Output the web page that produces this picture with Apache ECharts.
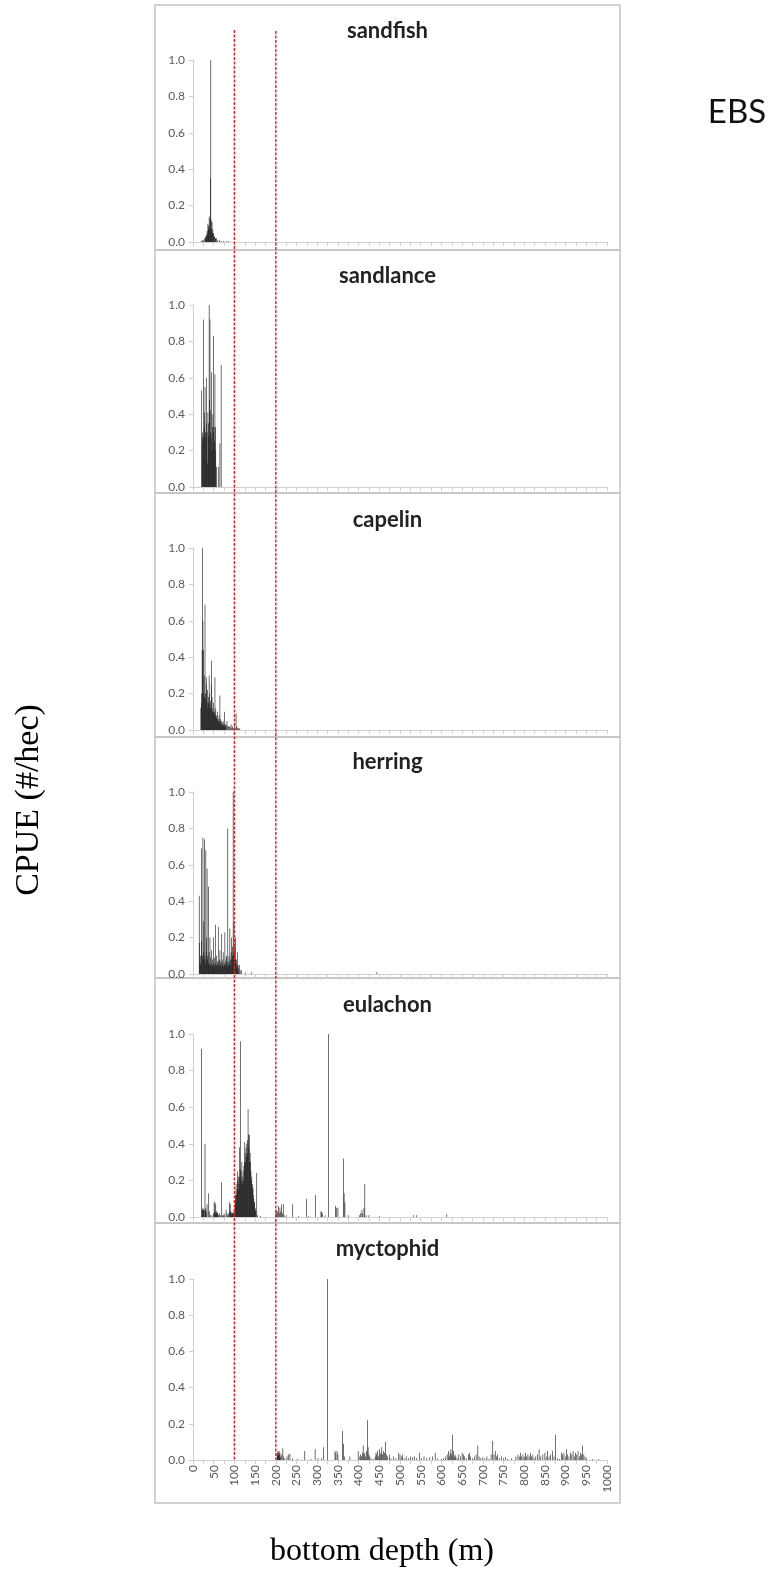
<!DOCTYPE html>
<html><head><meta charset="utf-8">
<script src="https://cdn.jsdelivr.net/npm/echarts@6/dist/echarts.min.js"></script>
<style>html,body{margin:0;padding:0;background:#fff}#c{width:770px;height:1570px}</style>
</head><body><div id="c"></div>
<script>
// ---------- data ----------
const species = ['sandfish', 'sandlance', 'capelin', 'herring', 'eulachon', 'myctophid'];
const yTickLabels = ['0.0', '0.2', '0.4', '0.6', '0.8', '1.0'];
const xTickLabels = ['0','50','100','150','200','250','300','350','400','450','500','550','600','650','700','750','800','850','900','950','1000'];
const refDepths = [100, 200];
const regionLabel = 'EBS';
const yTitle = 'CPUE (#/hec)';
const xTitle = 'bottom depth (m)';

const sandfish = [[20,0.005],[23,0.01],[26,0.01],[28,0.02],[30,0.03],[31,0.02],[32,0.04],[33,0.03],[34,0.06],[35,0.05],[36,0.1],[37,0.07],[38,0.09],[39,0.14],[40,0.08],[41,0.13],[42,0.35],[43,1.0],[44,0.12],[45,0.07],[46,0.11],[47,0.05],[48,0.07],[49,0.04],[50,0.05],[51,0.03],[52,0.03],[54,0.02],[55,0.02],[57,0.02],[60,0.01],[64,0.01],[68,0.005],[74,0.005],[80,0.005],[85,0.005]];

const sandlance = [[21,0.53],[22,0.27],[23,0.3],[24,0.25],[25,0.92],[26,0.28],[27,0.33],[28,0.41],[29,0.55],[30,0.3],[31,0.27],[32,0.35],[33,0.6],[34,0.3],[35,0.13],[36,0.41],[37,0.35],[38,0.28],[39,1.0],[40,0.48],[41,0.92],[42,0.3],[43,0.42],[44,0.27],[45,0.63],[46,0.2],[47,0.33],[48,0.4],[49,0.83],[50,0.3],[51,0.33],[52,0.25],[53,0.62],[54,0.33],[55,0.2],[57,0.11],[61,0.11],[65,0.24],[68,0.67]];

const capelin = [[19,0.12],[20,0.15],[21,0.2],[22,0.44],[23,1.0],[24,0.6],[25,0.44],[26,0.2],[27,0.3],[28,0.18],[29,0.69],[30,0.2],[31,0.17],[32,0.29],[33,0.25],[34,0.15],[35,0.22],[36,0.12],[37,0.15],[38,0.18],[39,0.3],[40,0.2],[41,0.14],[42,0.12],[43,0.16],[44,0.25],[45,0.38],[46,0.18],[47,0.1],[48,0.12],[49,0.09],[50,0.15],[51,0.1],[52,0.1],[53,0.29],[54,0.08],[55,0.12],[56,0.07],[57,0.08],[58,0.06],[59,0.1],[60,0.05],[61,0.06],[62,0.05],[63,0.08],[64,0.04],[65,0.19],[66,0.05],[67,0.06],[68,0.03],[69,0.05],[70,0.03],[71,0.04],[72,0.03],[73,0.05],[74,0.02],[75,0.03],[76,0.1],[77,0.02],[78,0.03],[79,0.02],[80,0.03],[82,0.05],[84,0.02],[86,0.02],[88,0.02],[90,0.015],[92,0.03],[94,0.01],[96,0.02],[98,0.01],[100,0.02],[102,0.01],[104,0.09],[106,0.02],[108,0.01],[110,0.01],[113,0.01]];

const herring = [[15,0.43],[16,0.17],[17,0.06],[18,0.1],[19,0.05],[20,0.18],[21,0.69],[22,0.08],[23,0.1],[24,0.75],[25,0.12],[26,0.29],[27,0.08],[28,0.74],[29,0.1],[30,0.06],[31,0.68],[32,0.12],[33,0.2],[34,0.58],[35,0.08],[36,0.1],[37,0.48],[38,0.06],[39,0.12],[40,0.05],[41,0.2],[42,0.05],[43,0.09],[44,0.06],[45,0.13],[46,0.05],[47,0.08],[48,0.04],[49,0.2],[50,0.06],[51,0.05],[52,0.09],[53,0.04],[54,0.27],[55,0.06],[56,0.05],[57,0.1],[58,0.04],[59,0.07],[60,0.05],[61,0.26],[62,0.06],[63,0.04],[64,0.08],[65,0.13],[66,0.05],[67,0.07],[68,0.04],[69,0.22],[70,0.06],[71,0.05],[72,0.08],[73,0.12],[74,0.04],[75,0.06],[76,0.05],[77,0.23],[78,0.07],[79,0.05],[80,0.09],[81,0.1],[82,0.06],[83,0.04],[84,0.8],[85,0.07],[86,0.05],[87,0.1],[88,0.06],[89,0.25],[90,0.08],[91,0.05],[92,0.12],[93,0.2],[94,0.08],[95,0.1],[96,0.15],[97,1.0],[98,0.12],[99,0.28],[100,0.1],[101,0.15],[102,0.08],[103,0.2],[104,0.06],[105,0.08],[106,0.04],[107,0.12],[108,0.04],[109,0.05],[110,0.03],[112,0.05],[114,0.02],[117,0.02],[126,0.01],[142,0.01],[199,0.01],[444,0.01]];

const eulachon = [[21,0.92],[22,0.04],[23,0.04],[24,0.05],[25,0.04],[26,0.04],[27,0.04],[29,0.4],[30,0.04],[31,0.05],[32,0.03],[34,0.07],[37,0.13],[40,0.03],[43,0.01],[46,0.01],[49,0.02],[51,0.08],[52,0.03],[53,0.08],[54,0.02],[55,0.07],[56,0.03],[57,0.02],[58,0.03],[59,0.02],[60,0.02],[62,0.01],[64,0.02],[66,0.01],[69,0.19],[71,0.01],[73,0.01],[75,0.02],[77,0.01],[80,0.04],[82,0.02],[84,0.01],[86,0.02],[88,0.08],[89,0.03],[90,0.07],[91,0.02],[92,0.03],[93,0.02],[94,0.01],[95,0.02],[96,0.02],[97,0.03],[98,0.02],[99,0.01],[100,0.02],[101,0.05],[102,0.08],[103,0.12],[104,0.18],[105,0.12],[106,0.15],[107,0.25],[108,0.2],[109,0.15],[110,0.22],[111,0.18],[112,0.38],[113,0.22],[114,0.26],[115,0.96],[116,0.25],[117,0.2],[118,0.3],[119,0.22],[120,0.18],[121,0.25],[122,0.2],[123,0.28],[124,0.3],[125,0.41],[126,0.35],[127,0.3],[128,0.38],[129,0.33],[130,0.4],[131,0.35],[132,0.42],[133,0.59],[134,0.45],[135,0.38],[136,0.45],[137,0.3],[138,0.35],[139,0.3],[140,0.25],[141,0.2],[142,0.22],[143,0.15],[144,0.18],[145,0.16],[146,0.12],[147,0.1],[148,0.08],[149,0.08],[150,0.05],[151,0.04],[152,0.03],[154,0.24],[156,0.01],[163,0.005],[200,0.02],[202,0.04],[204,0.03],[206,0.06],[208,0.02],[210,0.05],[212,0.03],[214,0.07],[216,0.02],[218,0.07],[220,0.01],[225,0.01],[241,0.07],[255,0.005],[274,0.1],[280,0.005],[296,0.12],[309,0.03],[311,0.03],[313,0.02],[319,0.01],[327,1.0],[344,0.06],[346,0.05],[350,0.05],[363,0.32],[365,0.13],[367,0.08],[375,0.01],[402,0.01],[405,0.02],[408,0.04],[410,0.02],[413,0.05],[415,0.18],[418,0.01],[425,0.01],[450,0.005],[532,0.01],[540,0.01],[613,0.015]];

const myctophid = [[203,0.04],[204,0.03],[205,0.05],[206,0.02],[207,0.04],[208,0.05],[209,0.03],[210,0.04],[212,0.02],[214,0.03],[217,0.065],[219,0.02],[222,0.01],[227,0.02],[230,0.03],[234,0.035],[240,0.01],[252,0.005],[270,0.05],[285,0.005],[295,0.06],[302,0.01],[310,0.01],[315,0.07],[325,1.0],[343,0.05],[345,0.04],[348,0.05],[350,0.03],[361,0.16],[364,0.09],[366,0.02],[379,0.02],[399,0.05],[403,0.02],[405,0.03],[407,0.02],[409,0.04],[411,0.08],[413,0.03],[415,0.04],[417,0.02],[419,0.05],[421,0.22],[423,0.07],[425,0.03],[427,0.02],[430,0.01],[435,0.005],[440,0.02],[442,0.04],[444,0.03],[446,0.05],[448,0.02],[450,0.06],[452,0.03],[454,0.04],[456,0.07],[458,0.03],[460,0.05],[463,0.04],[465,0.1],[467,0.03],[470,0.02],[474,0.03],[478,0.01],[484,0.02],[490,0.01],[497,0.04],[500,0.03],[503,0.02],[506,0.03],[510,0.01],[515,0.02],[520,0.01],[525,0.02],[530,0.015],[535,0.02],[540,0.01],[547,0.04],[552,0.01],[558,0.02],[565,0.01],[572,0.015],[578,0.02],[585,0.04],[590,0.01],[600,0.005],[605,0.01],[610,0.02],[614,0.03],[617,0.05],[619,0.02],[621,0.04],[623,0.06],[625,0.03],[627,0.14],[629,0.05],[631,0.02],[633,0.03],[635,0.02],[638,0.01],[642,0.03],[646,0.02],[650,0.04],[653,0.03],[656,0.02],[660,0.01],[665,0.03],[668,0.04],[670,0.02],[675,0.01],[680,0.02],[684,0.03],[688,0.08],[691,0.02],[695,0.01],[700,0.015],[705,0.01],[710,0.02],[715,0.005],[720,0.03],[724,0.105],[727,0.03],[730,0.05],[733,0.02],[736,0.03],[740,0.01],[745,0.02],[750,0.01],[755,0.015],[760,0.005],[770,0.01],[780,0.02],[785,0.03],[788,0.02],[791,0.04],[794,0.02],[797,0.03],[800,0.02],[803,0.04],[806,0.02],[809,0.03],[812,0.02],[815,0.04],[818,0.02],[821,0.03],[824,0.01],[828,0.02],[832,0.03],[836,0.06],[840,0.02],[845,0.03],[850,0.04],[853,0.02],[856,0.05],[860,0.02],[864,0.03],[868,0.05],[872,0.02],[876,0.14],[880,0.01],[885,0.005],[890,0.04],[893,0.03],[896,0.04],[899,0.02],[902,0.06],[905,0.03],[908,0.02],[912,0.04],[915,0.03],[918,0.05],[921,0.02],[924,0.04],[927,0.03],[930,0.05],[933,0.02],[936,0.04],[938,0.03],[941,0.08],[944,0.03],[947,0.02],[950,0.01],[965,0.005],[980,0.005]];

const seriesData = [sandfish, sandlance, capelin, herring, eulachon, myctophid];

// ---------- layout ----------
const panels = [
  {box: [5, 250],    top: 60,   h: 182, titleY: 31},
  {box: [250, 493],  top: 305,  h: 182, titleY: 276},
  {box: [493, 737],  top: 548,  h: 182, titleY: 520},
  {box: [737, 978],  top: 792,  h: 182, titleY: 762},
  {box: [978, 1223], top: 1034, h: 183, titleY: 1005},
  {box: [1223, 1503],top: 1279, h: 181, titleY: 1249}
];
const boxLeft = 155, boxRight = 620;
const gridLeft = 193, gridWidth = 414;
const axisGray = '#d0d0d0', labelGray = '#5a5a5a';
const tickFont = 'Lato, "Open Sans", sans-serif';

const chart = echarts.init(document.getElementById('c'), null, {renderer: 'canvas'});

const xMin = +xTickLabels[0], xMax = +xTickLabels[xTickLabels.length - 1];
const xLabelStep = +xTickLabels[1] - +xTickLabels[0];
const yMax = +yTickLabels[yTickLabels.length - 1];
const yStep = +yTickLabels[1];

const grids = [], xAxes = [], yAxes = [], series = [];
panels.forEach((p, i) => {
  grids.push({left: gridLeft, width: gridWidth, top: p.top, height: p.h, containLabel: false});
  const last = i === panels.length - 1;
  xAxes.push({
    type: 'value', gridIndex: i, min: xMin, max: xMax, interval: xLabelStep / 2,
    axisLine: {show: true, lineStyle: {color: axisGray, width: 1}},
    axisTick: {show: true, length: 4, lineStyle: {color: axisGray}},
    splitLine: {show: false},
    axisLabel: {
      show: last, rotate: 90, margin: 5, color: labelGray, fontSize: 12, fontFamily: tickFont,
      formatter: v => (xTickLabels.indexOf(String(v)) >= 0 ? String(v) : '')
    }
  });
  yAxes.push({
    type: 'value', gridIndex: i, min: 0, max: yMax, interval: yStep,
    axisLine: {show: true, lineStyle: {color: axisGray, width: 1}},
    axisTick: {show: true, length: 4, lineStyle: {color: axisGray}},
    splitLine: {show: false},
    axisLabel: {color: labelGray, fontSize: 12, fontFamily: tickFont, margin: 8,
      formatter: v => v.toFixed(1)}
  });
  series.push({
    type: 'bar', name: species[i], xAxisIndex: i, yAxisIndex: i,
    data: seriesData[i], barWidth: 0.6, barMinWidth: 0.6,
    itemStyle: {color: '#111'}, silent: true
  });
});

chart.setOption({
  animation: false,
  backgroundColor: '#fff',
  grid: grids, xAxis: xAxes, yAxis: yAxes, series: series
});

// graphic elements: panel boxes, titles, reference lines, axis titles
const graphics = [];
panels.forEach((p, i) => {
  graphics.push({
    type: 'rect', silent: true, z: 0,
    shape: {x: boxLeft, y: p.box[0], width: boxRight - boxLeft, height: p.box[1] - p.box[0]},
    style: {fill: 'none', stroke: '#c4c4c4', lineWidth: 1.5}
  });
  graphics.push({
    type: 'text', silent: true, z: 10,
    x: (boxLeft + boxRight) / 2, y: p.titleY,
    style: {text: species[i], font: 'bold 22px Lato, "Open Sans", sans-serif', fill: '#222',
      textAlign: 'center', textVerticalAlign: 'middle'}
  });
});
const lineBottom = chart.convertToPixel({yAxisIndex: panels.length - 1}, 0);
refDepths.forEach((d, k) => {
  const px = chart.convertToPixel({xAxisIndex: 0}, d);
  graphics.push({
    type: 'line', silent: true, z: 20,
    shape: {x1: px, y1: 30 + k, x2: px, y2: lineBottom},
    style: {stroke: '#ee1c1c', lineWidth: 1.4, lineDash: [3, 1.5]}
  });
});
graphics.push({
  type: 'text', silent: true, x: 737, y: 112,
  style: {text: regionLabel, font: '33px Lato, "Open Sans", sans-serif', fill: '#111',
    textAlign: 'center', textVerticalAlign: 'middle'}
});
graphics.push({
  type: 'text', silent: true, x: 29, y: 800, rotation: Math.PI / 2,
  style: {text: yTitle, font: '34px "Liberation Serif", "Times New Roman", serif', fill: '#000',
    textAlign: 'center', textVerticalAlign: 'middle'}
});
graphics.push({
  type: 'text', silent: true, x: 382, y: 1552,
  style: {text: xTitle, font: '32px "Liberation Serif", "Times New Roman", serif', fill: '#000',
    textAlign: 'center', textVerticalAlign: 'middle'}
});
chart.setOption({graphic: graphics});
</script></body></html>
